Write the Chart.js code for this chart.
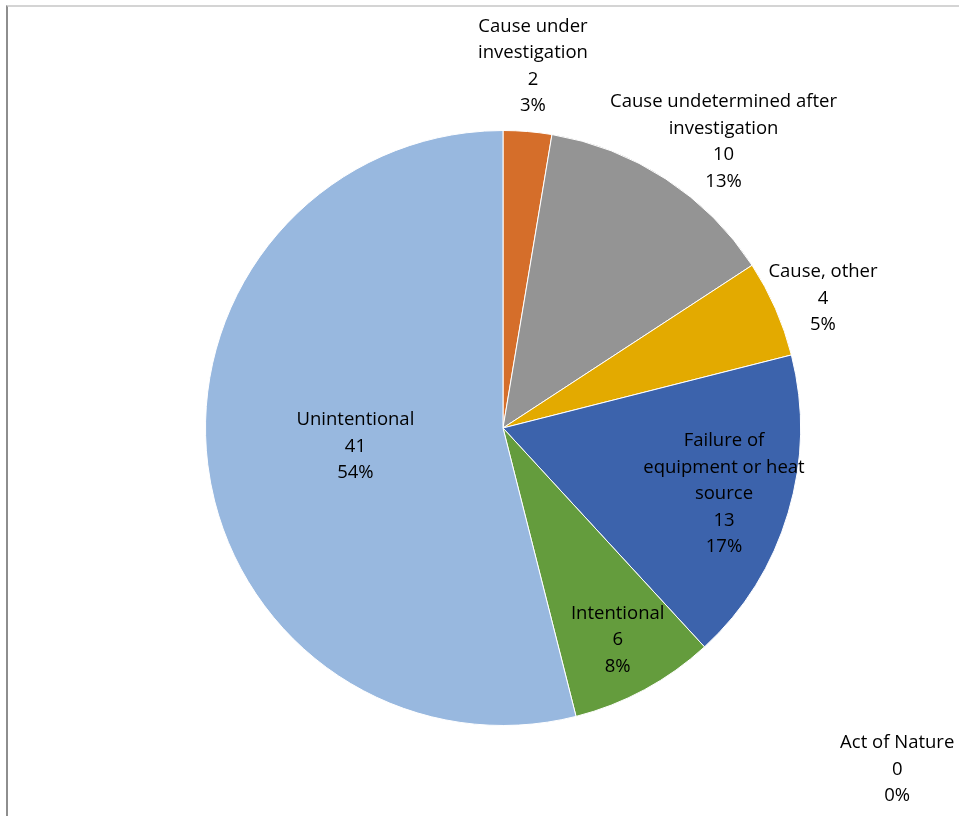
<!DOCTYPE html>
<html>
<head>
<meta charset="utf-8">
<script src="https://cdn.jsdelivr.net/npm/chart.js@4"></script>
<style>
  html, body { margin: 0; padding: 0; background: #fff; }
  #wrap { position: relative; width: 959px; height: 816px; }
  #frame { position: absolute; left: 6px; top: 5px; right: -10px; bottom: -10px;
    border-left: 2px solid #8e8e8e; border-top: 2px solid #d4d4d4; }
  canvas { position: absolute; left: 0; top: 0; }
</style>
</head>
<body>
<div id="wrap">
  <div id="frame"></div>
  <canvas id="pie" width="959" height="816"></canvas>
</div>
<script>
const categories = [
  ['Cause under', 'investigation'],
  ['Cause undetermined after', 'investigation'],
  ['Cause, other'],
  ['Failure of', 'equipment or heat', 'source'],
  ['Intentional'],
  ['Act of Nature'],
  ['Unintentional']
];
const counts = [2, 10, 4, 13, 6, 0, 41];
const sliceColors = ['#D56E2A', '#949494', '#E3AA00', '#3C63AC', '#649C3D', '#5B9BD5', '#98B8DF'];

// where each label sits: radius as a fraction of the pie radius, optional angle override (deg from top)
const labelRadius = [1.22, 1.215, 1.16, 0.775, 0.81, 1.753, 0.50];
const labelAngle = [null, 37.6, 68, null, null, 130.9, null];

const pieLabels = {
  id: 'pieLabels',
  afterDatasetsDraw(chart) {
    const ctx = chart.ctx;
    const meta = chart.getDatasetMeta(0);
    const total = counts.reduce((a, b) => a + b, 0);
    ctx.save();
    ctx.font = '18.5px "Open Sans", "Noto Sans", sans-serif';
    ctx.fillStyle = '#000';
    ctx.textAlign = 'center';
    ctx.textBaseline = 'middle';
    meta.data.forEach((arc, i) => {
      const p = arc.getProps(['x', 'y', 'startAngle', 'endAngle', 'outerRadius'], true);
      let a = (p.startAngle + p.endAngle) / 2;
      if (labelAngle[i] !== null) a = (labelAngle[i] - 90) * Math.PI / 180;
      const r = p.outerRadius * labelRadius[i];
      const cx = p.x + Math.cos(a) * r;
      const cy = p.y + Math.sin(a) * r;
      const lines = categories[i].concat([String(counts[i]), Math.round(counts[i] / total * 100) + '%']);
      const lh = 26.5;
      lines.forEach((t, k) => {
        ctx.fillText(t, cx, cy + (k - (lines.length - 1) / 2) * lh);
      });
    });
    ctx.restore();
  }
};

new Chart(document.getElementById('pie'), {
  type: 'pie',
  data: {
    labels: categories.map(c => c.join(' ')),
    datasets: [{
      data: counts,
      backgroundColor: sliceColors,
      borderColor: '#ffffff',
      borderWidth: 1
    }]
  },
  options: {
    responsive: false,
    animation: false,
    layout: { padding: { left: 205, right: 158, top: 130, bottom: 90 } },
    plugins: { legend: { display: false }, tooltip: { enabled: false } }
  },
  plugins: [pieLabels]
});
</script>
</body>
</html>
